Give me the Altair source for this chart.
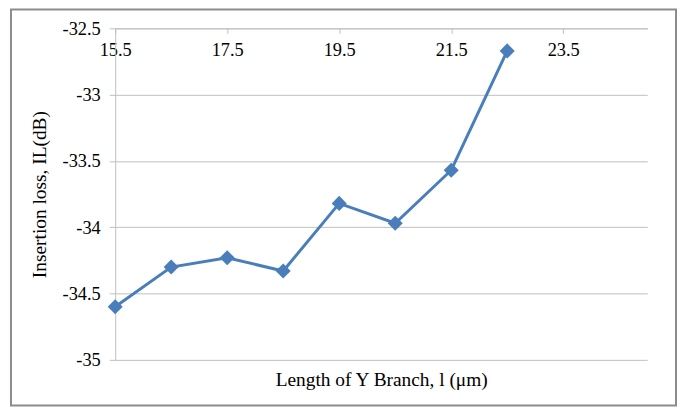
import altair as alt
import pandas as pd

lengths = [15.5, 16.5, 17.5, 18.5, 19.5, 20.5, 21.5, 22.5]
insertion_loss = [-34.60, -34.30, -34.23, -34.33, -33.82, -33.97, -33.57, -32.67]

x_ticks = [15.5, 17.5, 19.5, 21.5, 23.5]
y_ticks = [-35, -34.5, -34, -33.5, -33, -32.5]

df = pd.DataFrame({"l": lengths, "il": insertion_loss})

W, H = 536, 334
FONT = "Liberation Serif"
GRID = "#BFBFBF"
BLUE = "#4A7EBB"
LABEL_EXPR = "replace(format(datum.value, '.1~f'), '\u2212', '-')"

x_enc = alt.X(
    "l:Q",
    scale=alt.Scale(domain=[15.5, 25], nice=False, zero=False),
    axis=alt.Axis(
        orient="bottom", offset=-H, values=x_ticks, labelExpr=LABEL_EXPR,
        title="Length of Y Branch, l (μm)", titleFont=FONT, titleFontSize=19.5,
        titleFontWeight="normal", titleColor="#000", titleY=H + 20,
        titleBaseline="middle",
        labelFont=FONT, labelFontSize=18.5, labelColor="#000", labelPadding=7,
        labelFlush=False, labelOverlap=False,
        tickSize=5, tickColor=GRID, domainColor=GRID, grid=False,
    ),
)
y_enc = alt.Y(
    "il:Q",
    scale=alt.Scale(domain=[-35, -32.5], nice=False, zero=False),
    axis=alt.Axis(
        values=y_ticks, labelExpr=LABEL_EXPR,
        title="Insertion loss, IL(dB)", titleFont=FONT, titleFontSize=19.5,
        titleFontWeight="normal", titleColor="#000", titlePadding=13,
        labelFont=FONT, labelFontSize=18.5, labelColor="#000", labelPadding=9,
        labelFlush=False, labelOverlap=False,
        tickSize=6, tickColor=GRID, domainColor=GRID,
        grid=True, gridColor=GRID, gridWidth=1,
    ),
)

line = alt.Chart(df).mark_line(color=BLUE, strokeWidth=3).encode(x=x_enc, y=y_enc)
points = alt.Chart(df).mark_point(
    shape="diamond", filled=True, color=BLUE, size=230, opacity=1
).encode(x="l:Q", y="il:Q")

border = alt.Chart(pd.DataFrame({"a": [0]})).mark_rect(
    fill=None, stroke="#8C8C8C", strokeWidth=2
).encode(
    x=alt.value(-105), x2=alt.value(565), y=alt.value(-19), y2=alt.value(380)
)

chart = alt.layer(border, line, points).properties(
    width=W, height=H,
    autosize=alt.AutoSizeParams(type="none"),
    padding={"left": 108, "top": 19, "right": 30, "bottom": 47},
).configure(
    background="white", font=FONT,
    style={"guide-label": {"font": FONT}, "guide-title": {"font": FONT}},
).configure_view(stroke=None).configure_axis(labelFont=FONT, titleFont=FONT)

chart.save("out.html", embed_options={"renderer": "svg", "actions": False})
